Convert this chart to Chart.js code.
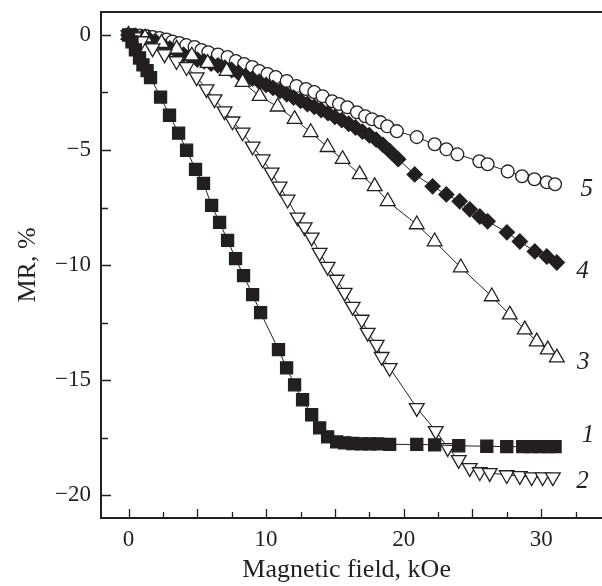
<!DOCTYPE html>
<html>
<head>
<meta charset="utf-8">
<style>
  html, body { margin: 0; padding: 0; background: #fff; }
</style>
<script src="https://cdn.jsdelivr.net/npm/chart.js@4.4.0/dist/chart.umd.min.js"></script>
</head>
<body>
<canvas id="graph" width="602" height="586"></canvas>
<script>
// magnetic field, kOe / MR, %  for curves 1..5
const field1 = [0, 0.25, 0.5, 0.8, 1.05, 1.35, 1.6, 2.33, 2.98, 3.64, 4.22, 4.87, 5.45, 6.04, 6.62, 7.2, 7.78, 8.36, 9.02, 9.6, 10.9, 11.49, 12.07, 12.65, 13.31, 13.89, 14.47, 15.13, 15.71, 16.29, 16.95, 17.53, 18.11, 18.98, 20.95, 22.25, 24.0, 26.04, 27.49, 28.65, 29.3, 29.9, 30.5, 31.0];
const mr1 = [0, -0.3, -0.65, -1.0, -1.3, -1.55, -1.85, -2.7, -3.49, -4.27, -5.01, -5.84, -6.45, -7.41, -8.15, -8.93, -9.72, -10.46, -11.29, -12.07, -13.68, -14.47, -15.21, -15.86, -16.51, -17.08, -17.47, -17.69, -17.73, -17.76, -17.78, -17.78, -17.78, -17.8, -17.8, -17.82, -17.86, -17.88, -17.9, -17.9, -17.9, -17.9, -17.9, -17.9];

const field2 = [0, 0.44, 0.95, 1.75, 2.62, 3.49, 4.22, 4.95, 5.67, 6.25, 6.98, 7.56, 8.29, 9.02, 9.75, 10.4, 10.98, 11.56, 12.29, 12.8, 13.31, 13.89, 14.47, 15.13, 15.71, 16.29, 16.95, 17.38, 18.04, 18.4, 18.98, 20.95, 22.33, 23.2, 24.0, 24.8, 25.53, 26.25, 27.49, 28.44, 29.3, 30.1, 30.84];
const mr2 = [0, -0.09, -0.26, -0.57, -0.83, -1.13, -1.39, -1.83, -2.35, -2.79, -3.31, -3.75, -4.23, -4.84, -5.4, -5.97, -6.58, -7.15, -7.93, -8.35, -8.8, -9.46, -10.07, -10.63, -11.2, -11.81, -12.37, -12.94, -13.46, -13.99, -14.47, -16.21, -17.21, -17.95, -18.47, -18.82, -19.0, -19.04, -19.13, -19.17, -19.22, -19.22, -19.22];

const field3 = [0, 1.2, 2.4, 3.5, 4.6, 5.75, 7.13, 8.29, 9.53, 10.84, 12.07, 13.24, 14.47, 15.56, 16.8, 17.89, 18.84, 20.95, 22.25, 24.15, 26.4, 27.71, 28.8, 29.67, 30.47, 31.13];
const mr3 = [0, -0.12, -0.35, -0.6, -0.9, -1.22, -1.57, -2.05, -2.66, -3.12, -3.66, -4.23, -4.88, -5.4, -6.06, -6.58, -7.23, -8.24, -8.98, -10.11, -11.37, -12.16, -12.81, -13.33, -13.68, -14.03];

const field4 = [0, 0.5, 1.0, 1.5, 2.0, 2.5, 3.0, 3.5, 4.0, 4.5, 5.0, 5.5, 6.0, 6.5, 7.0, 7.5, 8.0, 8.5, 9.0, 9.5, 10.0, 10.5, 11.0, 11.5, 12.0, 12.5, 13.0, 13.5, 14.0, 14.5, 15.0, 15.5, 16.0, 16.5, 17.0, 17.5, 18.0, 18.5, 19.0, 19.6, 20.8, 22.1, 23.1, 24.07, 24.8, 25.53, 26.1, 27.5, 28.44, 29.53, 30.4, 31.13];
const mr4 = [0, -0.03, -0.09, -0.18, -0.3, -0.44, -0.58, -0.72, -0.85, -0.97, -1.07, -1.15, -1.24, -1.32, -1.42, -1.52, -1.64, -1.78, -1.9, -2.03, -2.17, -2.3, -2.44, -2.58, -2.72, -2.86, -3.0, -3.12, -3.26, -3.4, -3.56, -3.7, -3.86, -4.02, -4.2, -4.36, -4.55, -4.78, -5.05, -5.4, -6.06, -6.58, -6.93, -7.23, -7.58, -7.89, -8.1, -8.58, -8.98, -9.41, -9.63, -9.89];

const field5 = [0, 0.4, 0.8, 1.3, 1.75, 2.25, 2.76, 3.2, 3.7, 4.2, 4.8, 5.3, 5.8, 6.5, 7.2, 7.8, 8.4, 9.0, 9.5, 10.1, 10.7, 11.5, 12.2, 12.9, 13.5, 14.1, 14.8, 15.3, 15.9, 16.6, 17.2, 17.7, 18.3, 18.8, 19.5, 20.95, 22.25, 23.1, 23.9, 25.5, 26.1, 27.56, 28.6, 29.5, 30.4, 31.0];
const mr5 = [0, 0, -0.02, -0.05, -0.09, -0.13, -0.2, -0.28, -0.35, -0.44, -0.52, -0.65, -0.75, -0.85, -0.96, -1.13, -1.26, -1.39, -1.57, -1.7, -1.83, -2.0, -2.22, -2.35, -2.48, -2.66, -2.88, -3.0, -3.14, -3.36, -3.53, -3.66, -3.79, -3.97, -4.18, -4.44, -4.75, -4.97, -5.19, -5.49, -5.62, -5.93, -6.14, -6.27, -6.4, -6.49];

const curveNames = ['1', '2', '3', '4', '5'];

const xTicks = [0, 2.5, 5, 7.5, 10, 12.5, 15, 17.5, 20, 22.5, 25, 27.5, 30, 32.5];
const xTickLabels = [0, 10, 20, 30];
const yTicks = [0, -2.5, -5, -7.5, -10, -12.5, -15, -17.5, -20];
const yTickLabels = [0, -5, -10, -15, -20];

const ink = '#231f20';
const serif = '"Liberation Serif", "DejaVu Serif", serif';

function pts(xs, ys) {
    return xs.map((x, i) => ({ x: x, y: ys[i] }));
}

function curve(xs, ys, style, radius, rotation, fill) {
    return {
        data: pts(xs, ys),
        showLine: true,
        clip: false,
        borderColor: ink,
        borderWidth: 1,
        pointStyle: style,
        pointRadius: radius,
        pointRotation: rotation,
        pointBackgroundColor: fill,
        pointBorderColor: ink,
        pointBorderWidth: 1.3
    };
}

// where the italic curve numbers sit (data units)
const nameSpots = [
    { x: 33.4, y: -17.4 },
    { x: 33.0, y: -19.4 },
    { x: 33.05, y: -14.25 },
    { x: 33.0, y: -10.3 },
    { x: 33.3, y: -6.7 }
];

const frame = {
    id: 'frame',
    afterDraw(chart) {
        const c = chart.ctx;
        const a = chart.chartArea;
        const xs = chart.scales.x, ys = chart.scales.y;
        c.save();
        c.strokeStyle = ink;
        c.lineWidth = 2;
        c.beginPath();
        c.moveTo(chart.width, a.top);
        c.lineTo(a.left, a.top);
        c.lineTo(a.left, a.bottom);
        c.lineTo(chart.width, a.bottom);
        c.stroke();
        c.lineWidth = 1.3;
        c.beginPath();
        xTicks.forEach(v => {
            const p = Math.round(xs.getPixelForValue(v)) + 0.5;
            const len = v % 5 === 0 ? 9 : 6;
            c.moveTo(p, a.bottom);
            c.lineTo(p, a.bottom - len);
        });
        yTicks.forEach(v => {
            const p = Math.round(ys.getPixelForValue(v)) + 0.5;
            const len = v % 5 === 0 ? 10 : 7;
            c.moveTo(a.left, p);
            c.lineTo(a.left + len, p);
        });
        c.stroke();
        c.fillStyle = ink;
        c.font = 'italic 25px ' + serif;
        c.textAlign = 'center';
        c.textBaseline = 'middle';
        curveNames.forEach((n, i) => {
            c.fillText(n, xs.getPixelForValue(nameSpots[i].x), ys.getPixelForValue(nameSpots[i].y));
        });
        c.restore();
    }
};

new Chart(document.getElementById('graph').getContext('2d'), {
    type: 'scatter',
    data: {
        datasets: [
            curve(field1, mr1, 'rect', 8.5, 0, ink),
            curve(field2, mr2, 'triangle', 8.5, 180, '#fff'),
            curve(field3, mr3, 'triangle', 8.5, 0, '#fff'),
            curve(field4, mr4, 'rectRot', 7.5, 0, ink),
            curve(field5, mr5, 'circle', 6.4, 0, '#fff')
        ]
    },
    options: {
        responsive: false,
        animation: false,
        events: [],
        layout: { padding: { top: 12, right: 0, left: 0, bottom: 0 } },
        plugins: {
            legend: { display: false },
            tooltip: { enabled: false }
        },
        scales: {
            x: {
                type: 'linear',
                min: -2,
                max: 33.7,
                afterBuildTicks: s => { s.ticks = xTicks.map(v => ({ value: v })); },
                afterFit: s => { s.height = 68; s.paddingLeft = 0; s.paddingRight = 0; },
                grid: { display: false },
                border: { display: false },
                ticks: {
                    autoSkip: false,
                    maxRotation: 0,
                    padding: 0,
                    color: ink,
                    font: { family: serif, size: 23 },
                    callback: v => xTickLabels.includes(v) ? String(v) : ''
                },
                title: {
                    display: true,
                    text: 'Magnetic field, kOe',
                    color: ink,
                    font: { family: serif, size: 26 },
                    padding: 0
                }
            },
            y: {
                type: 'linear',
                min: -21,
                max: 1,
                afterBuildTicks: s => { s.ticks = yTicks.map(v => ({ value: v })); },
                afterFit: s => { s.width = 101; s.paddingTop = 0; s.paddingBottom = 0; },
                grid: { display: false },
                border: { display: false },
                ticks: {
                    autoSkip: false,
                    padding: 2,
                    color: ink,
                    font: { family: serif, size: 23 },
                    callback: v => yTickLabels.includes(v) ? (v < 0 ? '\u2212' + Math.abs(v) : '0') : ''
                },
                title: {
                    display: true,
                    text: 'MR, %',
                    color: ink,
                    font: { family: serif, size: 26 },
                    padding: { top: 13, bottom: 0 }
                }
            }
        }
    },
    plugins: [frame]
});
</script>
</body>
</html>
